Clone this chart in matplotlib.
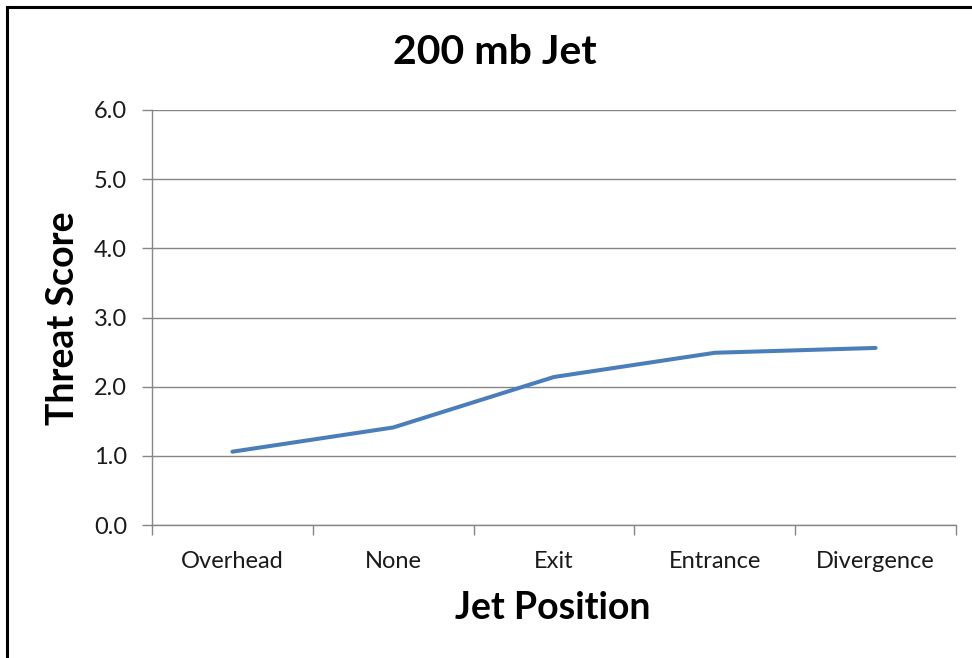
import matplotlib
matplotlib.use("Agg")
import matplotlib.pyplot as plt
from matplotlib.lines import Line2D

categories = ["Overhead", "None", "Exit", "Entrance", "Divergence"]
threat_score = [1.06, 1.41, 2.14, 2.49, 2.56]
y_ticks = [0.0, 1.0, 2.0, 3.0, 4.0, 5.0, 6.0]

plt.rcParams['font.family'] = ['Lato', 'DejaVu Sans']

W, H = 972, 658
fig = plt.figure(figsize=(W / 100, H / 100), dpi=100)
ax = fig.add_axes([152 / W, 1 - 525 / H, (956 - 152) / W, (525 - 110) / H])

x = list(range(len(categories)))
ax.plot(x, threat_score, color="#4A7EBB", lw=2.9, solid_capstyle="round", zorder=3)

ax.set_xlim(-0.5, len(categories) - 0.5)
ax.set_ylim(0, 6)
ax.set_yticks(y_ticks)
ax.set_yticklabels([f"{v:.1f}" for v in y_ticks], fontsize=17, color="#1a1a1a")
ax.set_xticks(x)
ax.set_xticklabels(categories, fontsize=17, color="#1a1a1a")
ax.tick_params(axis="x", length=0, pad=19)
ax.tick_params(axis="y", length=7, width=1, color="#868686", pad=11)

ax.set_xticks([i - 0.5 for i in range(len(categories) + 1)], minor=True)
ax.tick_params(axis="x", which="minor", length=7, width=1, color="#868686")

ax.grid(axis="y", color="#868686", lw=1)
ax.set_axisbelow(True)
for s in ["top", "right"]:
    ax.spines[s].set_visible(False)
for s in ["left", "bottom"]:
    ax.spines[s].set_color("#868686")
    ax.spines[s].set_linewidth(1)

fig.text(495 / W, 1 - 52 / H, "200 mb Jet", fontsize=29.5, fontweight="bold",
         ha="center", va="center")
fig.text(63 / W, 1 - 318 / H, "Threat Score", fontsize=27, fontweight="bold",
         ha="center", va="center", rotation=90)
fig.text(553 / W, 1 - 608 / H, "Jet Position", fontsize=27, fontweight="bold",
         ha="center", va="center")

fig.add_artist(Line2D([0.0075, 0.0075], [0, 0.9894], transform=fig.transFigure, color="black", lw=2.2))
fig.add_artist(Line2D([0.0075, 1.0], [0.9894, 0.9894], transform=fig.transFigure, color="black", lw=2.2))

fig.savefig("out.png", dpi=100)
